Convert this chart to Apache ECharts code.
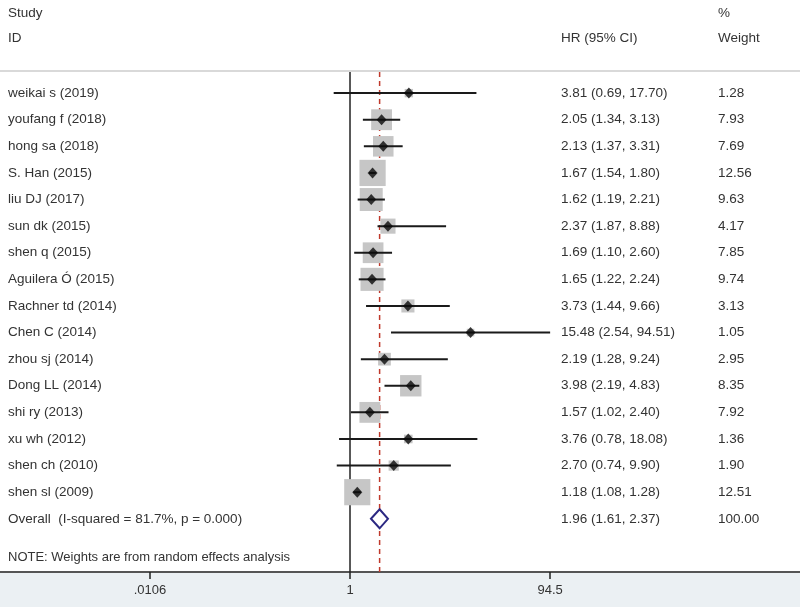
<!DOCTYPE html>
<html>
<head>
<meta charset="utf-8">
<script src="https://cdn.jsdelivr.net/npm/echarts@6/dist/echarts.min.js"></script>
<style>html,body{margin:0;padding:0;background:#fff}#c{width:800px;height:607px}</style>
</head>
<body>
<div id="c"></div>
<script>
const studies = ['weikai s (2019)','youfang f (2018)','hong sa (2018)','S. Han (2015)','liu DJ (2017)','sun dk (2015)','shen q (2015)','Aguilera Ó (2015)','Rachner td (2014)','Chen C (2014)','zhou sj (2014)','Dong LL (2014)','shi ry (2013)','xu wh (2012)','shen ch (2010)','shen sl (2009)'];
const hr = [3.81,2.05,2.13,1.67,1.62,2.37,1.69,1.65,3.73,15.48,2.19,3.98,1.57,3.76,2.70,1.18];
const lo = [0.69,1.34,1.37,1.54,1.19,1.87,1.10,1.22,1.44,2.54,1.28,2.19,1.02,0.78,0.74,1.08];
const hi = [17.70,3.13,3.31,1.80,2.21,8.88,2.60,2.24,9.66,94.51,9.24,4.83,2.40,18.08,9.90,1.28];
const weights = [1.28,7.93,7.69,12.56,9.63,4.17,7.85,9.74,3.13,1.05,2.95,8.35,7.92,1.36,1.90,12.51];
const overallLabel = 'Overall  (I-squared = 81.7%, p = 0.000)';
const overallHR = 1.96, overallLo = 1.61, overallHi = 2.37, overallWeight = 100.00;
const tickValues = [0.0106, 1, 94.5];
const tickLabels = ['.0106', '1', '94.5'];

const L = v => Math.log10(v);
const f2 = v => v.toFixed(2);
const FONT = "'Liberation Sans', Arial, sans-serif";
const TXT = '#333';
const nOverall = studies.length;

const chart = echarts.init(document.getElementById('c'), null, {renderer: 'canvas'});

const rowsText = studies.map((s, i) => [i, s, f2(hr[i]) + ' (' + f2(lo[i]) + ', ' + f2(hi[i]) + ')', f2(weights[i])]);
rowsText.push([nOverall, overallLabel, f2(overallHR) + ' (' + f2(overallLo) + ', ' + f2(overallHi) + ')', f2(overallWeight)]);

const option = {
  animation: false,
  backgroundColor: '#fff',
  grid: {left: 0, right: 0, top: 0, bottom: 35, containLabel: false, outerBoundsMode: 'none'},
  xAxis: {
    type: 'value', min: -3.455, max: 4.442,
    splitLine: {show: false},
    axisLine: {show: true, onZero: false, lineStyle: {color: '#555', width: 2}},
    axisTick: {show: true, customValues: tickValues.map(L), length: 7, lineStyle: {color: '#222', width: 1.5}},
    axisLabel: {
      customValues: tickValues.map(L), margin: 12, color: '#333', fontSize: 13, fontFamily: FONT,
      formatter: v => { let k = 0, b = 1e9; tickValues.forEach((t, j) => { const d = Math.abs(L(t) - v); if (d < b) { b = d; k = j; } }); return tickLabels[k]; }
    }
  },
  yAxis: {type: 'value', inverse: true, min: -3.5, max: 18, show: false},
  graphic: [
    {type: 'rect', shape: {x: 0, y: 572, width: 800, height: 35}, style: {fill: '#ebf0f3'}, z: -10},
    {type: 'line', shape: {x1: 0, y1: 71, x2: 800, y2: 71}, style: {stroke: '#d9d9d9', lineWidth: 2}},
    {type: 'text', x: 8, y: 13, style: {text: 'Study', font: '13.5px ' + FONT, fill: TXT, verticalAlign: 'middle'}},
    {type: 'text', x: 8, y: 38, style: {text: 'ID', font: '13.5px ' + FONT, fill: TXT, verticalAlign: 'middle'}},
    {type: 'text', x: 561, y: 38, style: {text: 'HR (95% CI)', font: '13.5px ' + FONT, fill: TXT, verticalAlign: 'middle'}},
    {type: 'text', x: 718, y: 13, style: {text: '%', font: '13.5px ' + FONT, fill: TXT, verticalAlign: 'middle'}},
    {type: 'text', x: 718, y: 38, style: {text: 'Weight', font: '13.5px ' + FONT, fill: TXT, verticalAlign: 'middle'}},
    {type: 'text', x: 8, y: 557, style: {text: 'NOTE: Weights are from random effects analysis', font: '13px ' + FONT, fill: TXT, verticalAlign: 'middle'}}
  ],
  series: [
    {
      type: 'custom', name: 'refs', z: 1, silent: true,
      data: [[0, 0], [L(overallHR), 1]],
      renderItem: (params, api) => {
        const a = api.coord([api.value(0), -0.79]);
        const b = api.coord([api.value(0), 18]);
        const dashed = api.value(1) === 1;
        return {type: 'line', shape: {x1: a[0], y1: a[1], x2: b[0], y2: b[1]},
          style: dashed ? {stroke: '#c0392b', lineWidth: 1.5, lineDash: [5, 4]} : {stroke: '#222', lineWidth: 1.5}};
      }
    },
    {
      type: 'scatter', name: 'weights', z: 2, symbol: 'rect', silent: true,
      data: studies.map((s, i) => [L(hr[i]), i, weights[i]]),
      symbolSize: d => 7.4 * Math.sqrt(d[2]),
      itemStyle: {color: '#c6c6c6', opacity: 1}
    },
    {
      type: 'custom', name: 'ci', z: 3, silent: true,
      data: studies.map((s, i) => [L(lo[i]), L(hi[i]), i]),
      renderItem: (params, api) => {
        const a = api.coord([api.value(0), api.value(2)]);
        const b = api.coord([api.value(1), api.value(2)]);
        return {type: 'line', shape: {x1: a[0], y1: a[1], x2: b[0], y2: b[1]}, style: {stroke: '#1a1a1a', lineWidth: 2}};
      }
    },
    {
      type: 'scatter', name: 'points', z: 4, symbol: 'diamond', symbolSize: [10, 11], silent: true,
      data: studies.map((s, i) => [L(hr[i]), i]),
      itemStyle: {color: '#0a0a0a'}
    },
    {
      type: 'custom', name: 'overall', z: 4, silent: true,
      data: [[L(overallLo), L(overallHR), L(overallHi), nOverall]],
      renderItem: (params, api) => {
        const y = api.value(3);
        const l = api.coord([api.value(0), y]);
        const c = api.coord([api.value(1), y]);
        const r = api.coord([api.value(2), y]);
        const h = 9.5;
        return {type: 'polygon', shape: {points: [[l[0], l[1]], [c[0], c[1] - h], [r[0], r[1]], [c[0], c[1] + h]]},
          style: {fill: '#fff', stroke: '#2b2882', lineWidth: 2}};
      }
    },
    {
      type: 'custom', name: 'text', z: 5, silent: true,
      data: rowsText,
      renderItem: (params, api) => {
        const i = api.value(0);
        const row = rowsText[params.dataIndex];
        const y = api.coord([0, i])[1];
        const st = t => ({text: t, font: '13.5px ' + FONT, fill: TXT, verticalAlign: 'middle'});
        return {type: 'group', children: [
          {type: 'text', x: 8, y: y, style: st(row[1])},
          {type: 'text', x: 561, y: y, style: st(row[2])},
          {type: 'text', x: 718, y: y, style: st(row[3])}
        ]};
      }
    }
  ]
};
chart.setOption(option);
</script>
</body>
</html>
